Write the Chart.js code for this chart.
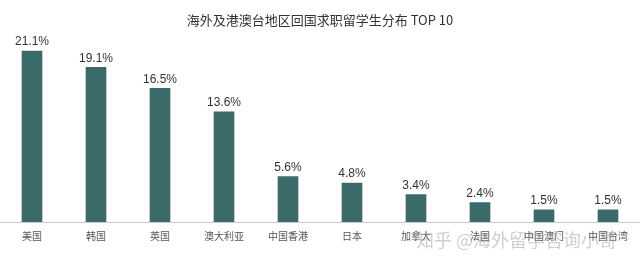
<!DOCTYPE html>
<html>
<head>
<meta charset="utf-8">
<script src="https://cdn.jsdelivr.net/npm/chart.js@4"></script>
<style>
  html, body { margin: 0; padding: 0; background: #fff; }
  #wrap { width: 640px; height: 265px; }
</style>
</head>
<body>
<div id="wrap"><canvas id="chart"></canvas></div>
<script>
var regions = ['美国', '韩国', '英国', '澳大利亚', '中国香港', '日本', '加拿大', '法国', '中国澳门', '中国台湾'];
var shares = [21.1, 19.1, 16.5, 13.6, 5.6, 4.8, 3.4, 2.4, 1.5, 1.5];
var chartTitle = '海外及港澳台地区回国求职留学生分布 TOP 10';
var watermark = '知乎 @海外留学咨询小哥';

const fontFamily = '"Noto Sans CJK SC", "Noto Sans", sans-serif';
const numFont = '"Liberation Sans Narrow", "Liberation Sans", sans-serif';

// percent labels above each bar
const valueLabels = {
    id: 'valueLabels',
    afterDatasetsDraw(chart) {
        const ctx = chart.ctx;
        const meta = chart.getDatasetMeta(0);
        ctx.save();
        ctx.font = '12px ' + numFont;
        ctx.fillStyle = '#333';
        ctx.textAlign = 'center';
        ctx.textBaseline = 'bottom';
        meta.data.forEach(function (bar, i) {
            ctx.fillText(shares[i].toFixed(1) + '%', bar.x, bar.y - 3);
        });
        ctx.restore();
    }
};

// faint watermark over the bottom right
const watermarkText = {
    id: 'watermarkText',
    afterDraw(chart) {
        const ctx = chart.ctx;
        ctx.save();
        ctx.font = '18px ' + fontFamily;
        ctx.fillStyle = 'rgba(160,160,160,0.5)';
        ctx.textAlign = 'left';
        ctx.textBaseline = 'middle';
        ctx.fillText(watermark, 416, 240);
        ctx.restore();
    }
};

const config = {
    type: 'bar',
    data: {
        labels: regions,
        datasets: [{
            data: shares,
            backgroundColor: '#3a6a6a',
            barThickness: 20
        }]
    },
    options: {
        responsive: true,
        maintainAspectRatio: false,
        animation: false,
        layout: { padding: { left: 0, right: 0, top: 0, bottom: 23 } },
        scales: {
            x: {
                grid: { display: false },
                border: { display: true, color: '#cccccc', width: 1 },
                ticks: {
                    color: '#555',
                    padding: 0,
                    font: { family: fontFamily, size: 10 }
                }
            },
            y: {
                display: false,
                min: 0,
                max: 24
            }
        },
        plugins: {
            legend: { display: false },
            tooltip: { enabled: false },
            title: {
                display: true,
                text: chartTitle,
                color: '#333',
                font: { family: fontFamily, size: 13, weight: 'normal' },
                padding: { top: 12, bottom: 0 }
            }
        }
    },
    plugins: [valueLabels, watermarkText]
};

var barChart = new Chart(document.getElementById('chart').getContext('2d'), config);
</script>
</body>
</html>
